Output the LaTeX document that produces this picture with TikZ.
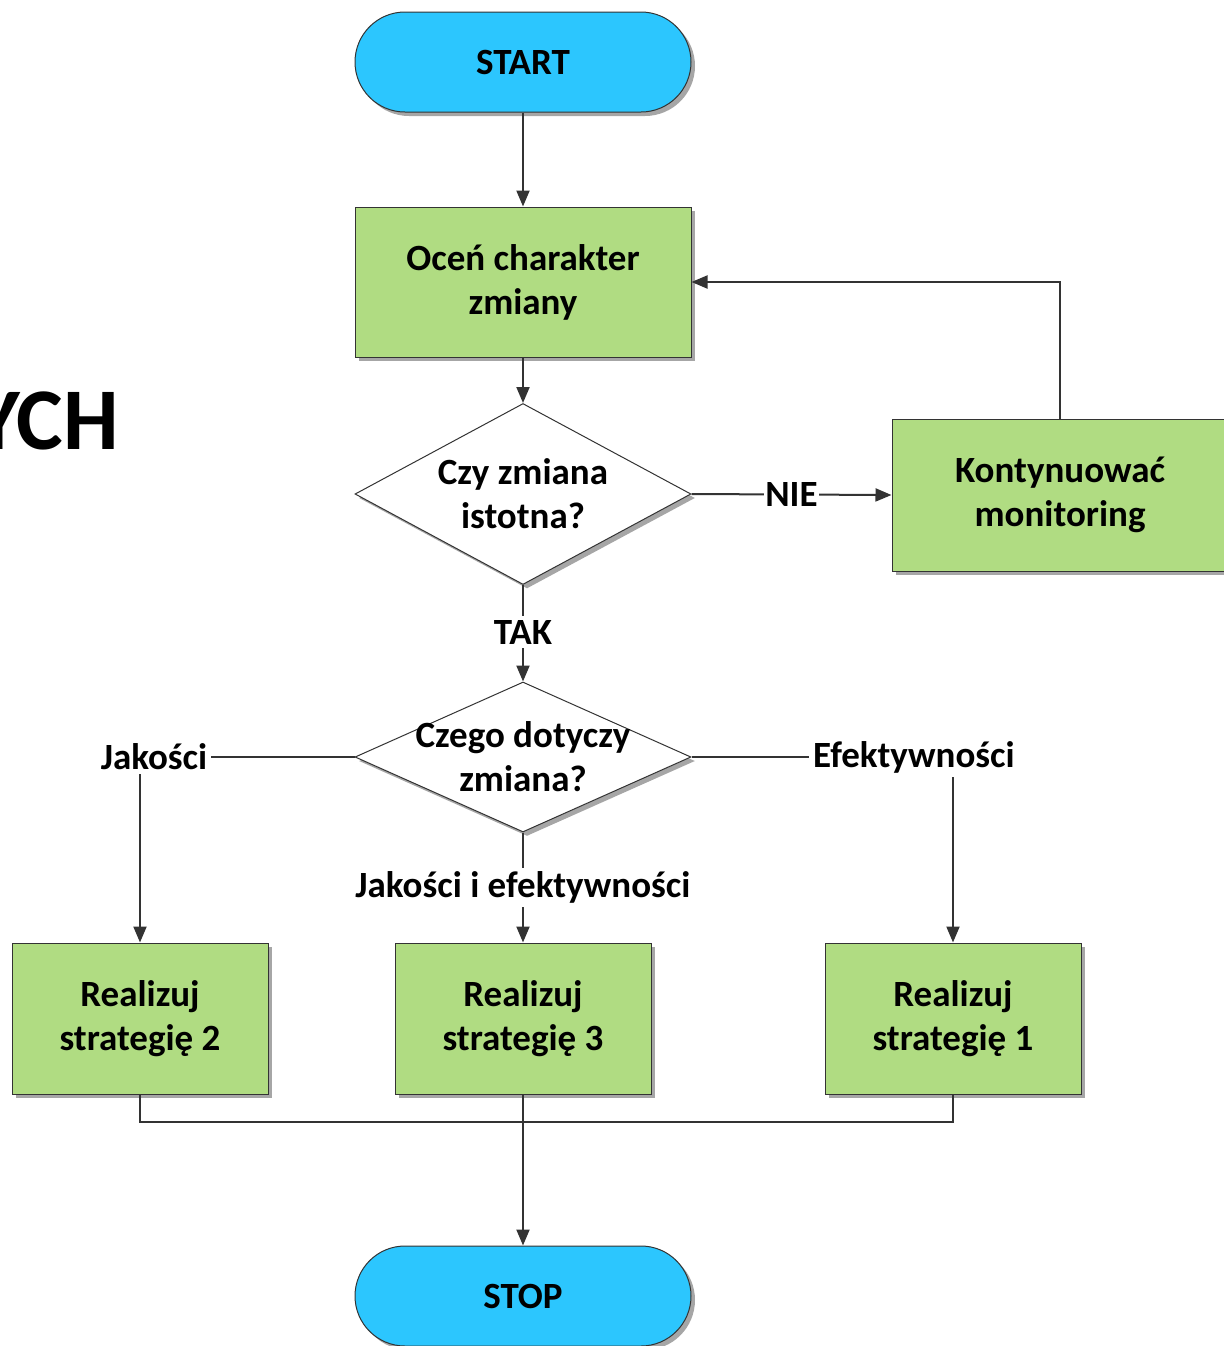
\documentclass[tikz,border=0pt]{standalone}
\usepackage{fontspec}
\setmainfont{Carlito}
\usetikzlibrary{shapes.geometric,shadows,arrows.meta}
\definecolor{pillblue}{HTML}{2CC6FE}
\definecolor{boxgreen}{HTML}{B0DC82}
\definecolor{linegray}{HTML}{333333}
\begin{document}
\begin{tikzpicture}[x=0.5pt,y=-0.5pt,
  every node/.style={font=\bfseries\fontsize{18.5}{22}\selectfont, align=center, text=black},
  shad/.style={drop shadow={shadow xshift=2pt,shadow yshift=-2pt,fill=black!35,opacity=1}},
  pill/.style={shad, draw=linegray, line width=0.5pt, fill=pillblue, rounded corners=25pt, minimum width=168pt, minimum height=50pt, inner sep=0pt},
  procbox/.style={shad, draw=linegray, line width=0.5pt, fill=boxgreen, minimum width=168pt, minimum height=75pt, inner sep=0pt},
  stratbox/.style={procbox, minimum width=128pt, minimum height=75.5pt},
  decision/.style={shad, diamond, draw=linegray, line width=0.5pt, fill=white, minimum width=168pt, minimum height=75pt, inner sep=0pt},
  conn/.style={draw=linegray, line width=1pt},
  arr/.style={conn, -{Triangle[width=6.5pt,length=8pt]}},
  lbl/.style={fill=white, inner sep=0.5pt}
]
\useasboundingbox (0,0) rectangle (1223,1346);

\node[anchor=east, font=\bfseries\fontsize{44}{50}\selectfont] (ych) at (126,421) {YCH};

\node[pill] (start) at (523,62) {START};
\node[procbox] (ocen) at (523,282) {Oceń charakter\\zmiany};
\node[decision, minimum height=90.5pt] (d1) at (523,494) {};
\node (d1t) at (d1.center) {Czy zmiana\\istotna?};
\node[procbox, minimum height=76pt] (kont) at (1060,495) {Kontynuować\\monitoring};
\node[decision] (d2) at (523,757) {};
\node (d2t) at (d2.center) {Czego dotyczy\\zmiana?};
\node[stratbox] (s2) at (140,1018.5) {Realizuj\\strategię 2};
\node[stratbox] (s3) at (523,1018.5) {Realizuj\\strategię 3};
\node[stratbox] (s1) at (953,1018.5) {Realizuj\\strategię 1};
\node[pill] (stop) at (523,1296) {STOP};

\coordinate (merge) at (523,1122);

\draw[arr] (start) -- (ocen);
\draw[arr] (ocen) -- (d1);
\draw[arr] (d1.east) -- node[lbl] {NIE} (kont.west);
\draw[arr] (kont.north) |- (ocen.east);
\draw[arr] (d1.south) -- node[lbl, pos=0.49, inner sep=2pt] {TAK} (d2.north);
\draw[arr] (d2.west) -| (s2.north);
\node[lbl, inner sep=2pt] (ljak) at (154,757) {Jakości};
\draw[arr] (d2.east) -| (s1.north);
\node[lbl, inner sep=2pt] (lefe) at (914,757) {Efektywności};
\draw[arr] (d2.south) -- node[lbl, pos=0.5, inner sep=2pt] {Jakości i efektywności} (s3.north);
\draw[conn] (s2.south) |- (merge) -| (s1.south);
\draw[arr] (s3.south) -- (stop.north);
\end{tikzpicture}
\end{document}
